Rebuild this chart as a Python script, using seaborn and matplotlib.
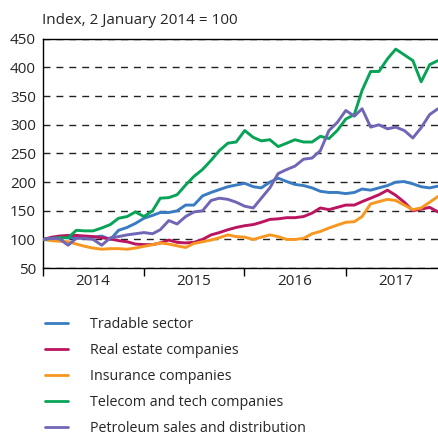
import pandas as pd
import matplotlib
matplotlib.use("Agg")
import matplotlib.pyplot as plt
import matplotlib.dates as mdates
import seaborn as sns

# monthly readings, Jan 2014 .. Dec 2017 (index, 2 Jan 2014 = 100)
dates = pd.date_range("2014-01-02", periods=48, freq=pd.DateOffset(months=1))

tradable = [100, 103, 104, 103, 103, 103, 104, 106, 100, 116, 121, 128,
            137, 142, 147, 147, 150, 160, 160, 176, 182, 187, 192, 195,
            198, 192, 190, 200, 207, 201, 196, 194, 190, 184, 182, 182,
            180, 182, 188, 186, 190, 194, 200, 201, 197, 192, 190, 193]
real_estate = [100, 104, 106, 107, 107, 106, 105, 103, 101, 98, 96, 92,
               91, 91, 94, 99, 95, 94, 95, 100, 108, 112, 117, 121,
               124, 126, 130, 135, 136, 138, 138, 140, 146, 155, 152, 156,
               160, 160, 166, 172, 178, 186, 177, 165, 150, 153, 156, 148]
insurance = [100, 98, 97, 96, 92, 88, 85, 83, 84, 84, 83, 85,
             88, 91, 94, 92, 89, 86, 93, 96, 99, 103, 108, 105,
             104, 100, 104, 108, 105, 100, 100, 102, 110, 114, 120, 125,
             130, 131, 140, 162, 166, 170, 168, 160, 152, 155, 165, 175]
telecom = [100, 102, 103, 103, 116, 115, 115, 120, 126, 137, 140, 148,
           140, 150, 172, 173, 178, 195, 210, 222, 238, 255, 268, 270,
           290, 278, 272, 274, 262, 268, 274, 270, 270, 280, 276, 290,
           310, 318, 360, 393, 393, 415, 432, 422, 412, 375, 405, 412]
petroleum = [100, 102, 101, 90, 102, 102, 100, 90, 103, 105, 108, 110,
             112, 110, 117, 133, 127, 140, 148, 150, 168, 172, 170, 165,
             158, 155, 172, 190, 215, 222, 228, 240, 242, 255, 290, 304,
             325, 315, 328, 296, 300, 293, 296, 290, 277, 295, 318, 328]

series_names = ["Tradable sector", "Real estate companies", "Insurance companies",
                "Telecom and tech companies", "Petroleum sales and distribution"]
colors = ["#3a7cc2", "#bb1460", "#f7971f", "#07a457", "#7066b6"]

df = pd.concat([
    pd.DataFrame({"date": dates, "value": vals, "series": name})
    for name, vals in zip(series_names, [tradable, real_estate, insurance, telecom, petroleum])
])

sns.set_style("ticks")
plt.rcParams["font.family"] = ["Open Sans", "DejaVu Sans"]

fig = plt.figure(figsize=(4.38, 4.36), dpi=100)
ax = fig.add_axes([0.098, 0.385, 0.902, 0.526])

sns.lineplot(data=df, x="date", y="value", hue="series", palette=colors,
             linewidth=2.1, ax=ax, legend=False, zorder=3)

ax.set_ylim(50, 450)
ax.set_yticks(range(50, 451, 50))
ax.set_xlim(pd.Timestamp("2014-01-01"), dates[-1])
ax.grid(axis="y", linestyle=(0, (5, 4.3)), color="#222222", linewidth=1.0, zorder=1)
ax.set_xlabel("")
ax.set_ylabel("")

ax.xaxis.set_major_locator(mdates.YearLocator())
ax.xaxis.set_major_formatter(plt.NullFormatter())
ax.xaxis.set_minor_locator(mdates.MonthLocator(bymonth=7, bymonthday=1))
ax.xaxis.set_minor_formatter(mdates.DateFormatter("%Y"))
ax.tick_params(axis="x", which="major", length=6, width=1, color="black", direction="out")
ax.tick_params(axis="x", which="minor", length=0, labelsize=11, pad=4)
ax.tick_params(axis="y", length=0, labelsize=11, pad=5)

for side in ["left", "bottom", "top"]:
    ax.spines[side].set_color("black")
    ax.spines[side].set_linewidth(1.0)
ax.spines["right"].set_visible(False)

fig.text(0.096, 0.954, "Index, 2 January 2014 = 100", fontsize=11, va="center", ha="left")

handles = [plt.Line2D([], [], color=c, linewidth=2.0) for c in colors]
fig.legend(handles, series_names, loc="upper left", bbox_to_anchor=(0.103, 0.272),
           frameon=False, fontsize=10.3, handlelength=1.6, handletextpad=1.55,
           labelspacing=0.77, borderpad=0, borderaxespad=0)

fig.savefig("out.png", dpi=100)
